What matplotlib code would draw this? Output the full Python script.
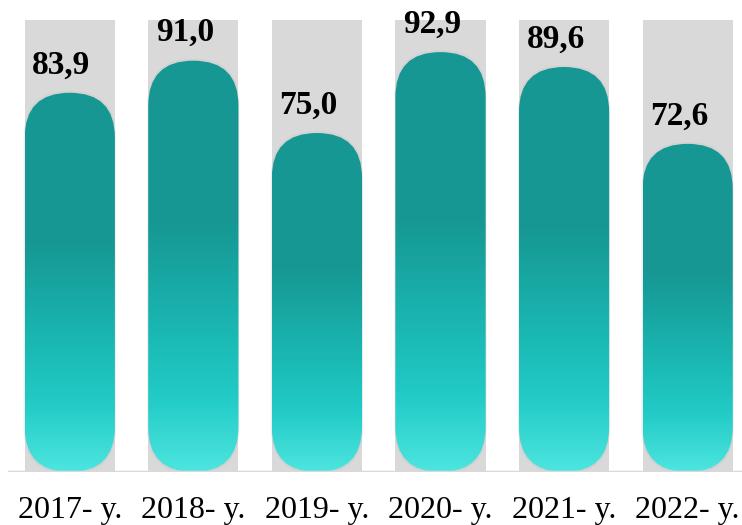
import numpy as np
import matplotlib.pyplot as plt
from matplotlib.patches import FancyBboxPatch
from matplotlib.colors import LinearSegmentedColormap

# data
years = ["2017- y.", "2018- y.", "2019- y.", "2020- y.", "2021- y.", "2022- y."]
values = [83.9, 91.0, 75.0, 92.9, 89.6, 72.6]
labels = ["83,9", "91,0", "75,0", "92,9", "89,6", "72,6"]
back_value = 100

W, H = 742, 525
fig = plt.figure(figsize=(W / 100, H / 100), dpi=100)
ax = fig.add_axes([8 / W, 53 / H, 734 / W, 452 / H])

xmin, xmax = -0.50, 5.44
ax.set_xlim(xmin, xmax)
ax.set_ylim(0, back_value)
bw = 0.73

# px per data unit, to keep the rounded ends circular
px_x = 734 / (xmax - xmin)
px_y = 452 / back_value
aspect = px_x / px_y

cmap = LinearSegmentedColormap.from_list(
    "teal", [(0.0, "#4de5df"), (0.18, "#22cbc6"), (0.32, "#1bbab5"),
             (0.6, "#169894"), (1.0, "#169794")])
grad = np.linspace(0, 1, 256).reshape(-1, 1)

xs = np.arange(len(values))
for x, v, lab in zip(xs, values, labels):
    # gray background bar
    ax.bar(x, back_value, width=bw, color="#d9d9d9", zorder=1)
    # soft shadow
    sh = FancyBboxPatch((x - bw / 2 - 0.008, -0.4), bw + 0.016, v + 0.8,
                        boxstyle="round,pad=0,rounding_size=%f" % (bw / 2),
                        mutation_aspect=aspect, fc="#c4c4c4", ec="none",
                        alpha=0.3, zorder=2)
    ax.add_patch(sh)
    p = FancyBboxPatch((x - bw / 2, 0), bw, v,
                       boxstyle="round,pad=0,rounding_size=%f" % (bw / 2),
                       mutation_aspect=aspect, fc="none", ec="none", zorder=3)
    ax.add_patch(p)
    im = ax.imshow(grad, cmap=cmap, aspect="auto", origin="lower",
                   extent=(x - bw / 2, x + bw / 2, 0, v), zorder=3)
    im.set_clip_path(p)
    ax.annotate(lab, (x, v), xytext=(-6, 9), textcoords="offset points",
                ha="center", va="bottom", fontsize=24, fontweight="bold",
                family="Liberation Serif", zorder=4)

ax.set_xlim(xmin, xmax)
ax.set_ylim(0, back_value)

ax.axhline(0, color="#d9d9d9", lw=2.5, zorder=5)
for s in ax.spines.values():
    s.set_visible(False)
ax.set_yticks([])
ax.set_xticks(xs)
ax.set_xticklabels(years, fontsize=23, family="Liberation Serif")
ax.tick_params(axis="x", length=0, pad=17)

fig.savefig("out.png", dpi=100)
